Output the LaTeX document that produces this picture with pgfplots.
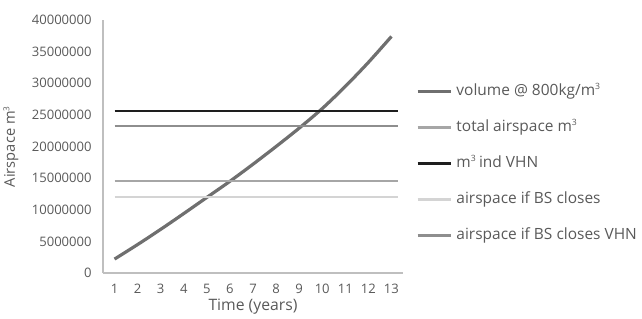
\documentclass[border=0pt]{standalone}
\usepackage{pgfplots}
\pgfplotsset{compat=1.18}
\usepackage{fontspec}
\setmainfont{Open Sans}
\definecolor{txt}{HTML}{595959}
\definecolor{axc}{HTML}{BFBFBF}
\definecolor{cvol}{HTML}{6F6F6F}
\definecolor{ctot}{HTML}{A6A6A6}
\definecolor{cvhn}{HTML}{1E1E1E}
\definecolor{cbs}{HTML}{D4D4D4}
\definecolor{cbsv}{HTML}{8E8E8E}
\newcommand{\sq}{\textsuperscript{\scalebox{0.8}{3}}}
\begin{document}
\begin{tikzpicture}[x=0.75pt,y=0.75pt]
\useasboundingbox (-103,-45) rectangle (539,273);
\begin{axis}[
  at={(0,0)}, anchor=south west,
  scale only axis, width=225pt, height=189.75pt,
  xmin=0.5, xmax=13.5, ymin=0, ymax=40000000,
  axis x line*=bottom, axis y line*=left,
  axis line style={axc, line width=0.8pt, -},
  major tick length=0pt,
  xtick={1,...,13}, ytick={0,5000000,...,40000000},
  scaled y ticks=false,
  yticklabel={\pgfmathprintnumber[fixed,precision=0,1000 sep={}]{\tick}},
  /pgf/number format/assume math mode=true,
  yticklabel style={xshift=-5pt, font=\fontsize{9.8}{11}\selectfont, text=txt},
  xticklabel style={yshift=-5pt, font=\fontsize{9.8}{11}\selectfont, text=txt},
  xlabel={Time (years)}, ylabel={Airspace m\sq},
  every axis x label/.style={at={(axis description cs:0.5,0)}, anchor=center, yshift=-25pt,
    font=\fontsize{11.8}{13}\selectfont, text=txt},
  every axis y label/.style={at={(axis description cs:-0.307,0.5)}, anchor=center, rotate=90,
    font=\fontsize{11}{12}\selectfont, text=txt},
  legend style={at={(axis description cs:1,0.433)}, anchor=west, xshift=9.5pt, draw=none, fill=none,
    font=\fontsize{11.6}{13}\selectfont, text=txt, row sep=16.5pt, inner sep=0pt,
    nodes={text height=8pt, text depth=2.5pt, inner ysep=0pt, inner xsep=3pt, outer sep=0pt}},
  legend cell align=left,
  legend image code/.code={\draw[#1] (0pt,0pt) -- (25pt,0pt);},
  clip=false,
]
\addplot[cvol, line width=2.4pt, smooth] coordinates {
(1,2200000) (2,4500000) (3,6900000) (4,9400000) (5,11950000) (6,14500000) (7,17200000)
(8,20000000) (9,22900000) (10,26000000) (11,29500000) (12,33300000) (13,37400000)};
\addlegendentry{volume @ 800kg/m\sq}
\addplot[ctot, line width=1.6pt] coordinates {(1,14500000) (13.3,14500000)};
\addlegendentry{total airspace m\sq}
\addplot[cvhn, line width=1.6pt] coordinates {(1,25600000) (13.3,25600000)};
\addlegendentry{m\sq\,ind VHN}
\addplot[cbs, line width=1.6pt] coordinates {(1,12050000) (13.3,12050000)};
\addlegendentry{airspace if BS closes}
\addplot[cbsv, line width=1.6pt] coordinates {(1,23250000) (13.3,23250000)};
\addlegendentry{airspace if BS closes VHN}
\end{axis}
\end{tikzpicture}
\end{document}
